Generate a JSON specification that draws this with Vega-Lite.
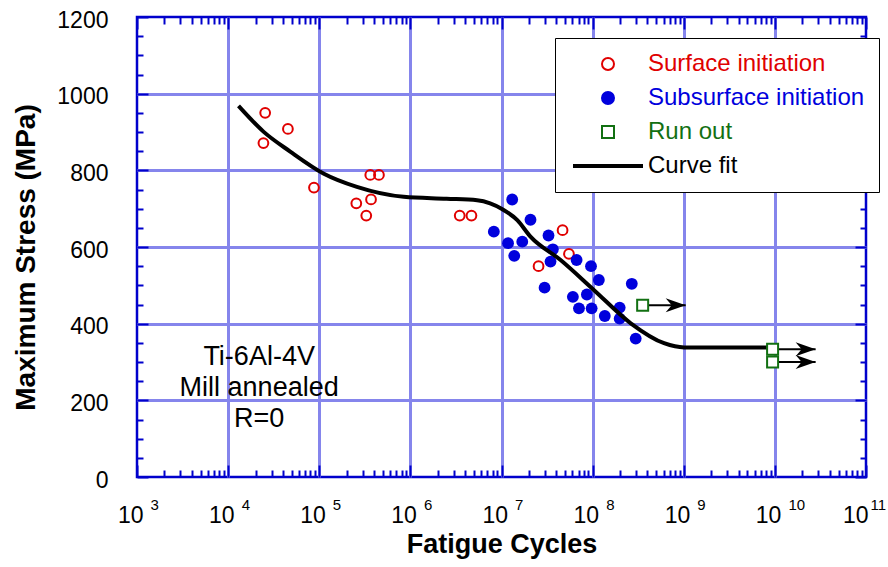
{
  "$schema": "https://vega.github.io/schema/vega-lite/v6.json",
  "width": 729,
  "height": 460,
  "autosize": {"type": "none"},
  "padding": {"left": 137, "top": 17, "right": 22, "bottom": 90},
  "background": "white",
  "config": {
    "font": "Liberation Sans",
    "view": {"stroke": "#0000cc", "strokeWidth": 2.5},
    "axis": {"labelColor": "black", "titleColor": "black", "domain": false, "labelFlush": false, "labelOverlap": false, "tickColor": "#0000cc", "tickWidth": 2, "tickOpacity": 1}
  },
  "resolve": {"axis": {"x": "independent", "y": "independent"}},
  "layer": [
    {
      "data": {"values": [
        {"series": "Surface initiation", "n": 25500, "s": 950},
        {"series": "Surface initiation", "n": 45300, "s": 908},
        {"series": "Surface initiation", "n": 24400, "s": 871},
        {"series": "Surface initiation", "n": 87500, "s": 755},
        {"series": "Surface initiation", "n": 363000, "s": 788},
        {"series": "Surface initiation", "n": 452000, "s": 788},
        {"series": "Surface initiation", "n": 255000, "s": 714},
        {"series": "Surface initiation", "n": 370000, "s": 724},
        {"series": "Surface initiation", "n": 328000, "s": 682},
        {"series": "Surface initiation", "n": 3480000, "s": 682},
        {"series": "Surface initiation", "n": 4680000, "s": 682},
        {"series": "Surface initiation", "n": 46800000, "s": 644},
        {"series": "Surface initiation", "n": 55000000, "s": 582},
        {"series": "Surface initiation", "n": 25500000, "s": 550}
      ]},
      "mark": {"type": "point", "filled": false, "strokeWidth": 2, "size": 95, "opacity": 1},
      "encoding": {
        "x": {
          "field": "n", "type": "quantitative",
          "scale": {"type": "log", "domain": [1000, 1e11], "nice": false},
          "axis": {
            "orient": "bottom",
            "values": [1000, 10000, 100000, 1e6, 1e7, 1e8, 1e9, 1e10, 1e11],
            "labelExpr": "'10'",
            "labelFontSize": 23, "labelAlign": "right", "labelBaseline": "alphabetic", "labelPadding": 45,
            "labelOffset": {"condition": {"test": "datum.value > 5e10", "value": 2}, "value": 6},
            "grid": true, "gridColor": "#8585ec", "gridWidth": 3,
            "gridOpacity": {"condition": {"test": "datum.value > 2000 && datum.value < 5e10", "value": 1}, "value": 0},
            "ticks": false, "tickSize": 0,
            "title": "Fatigue Cycles", "titleFontSize": 27, "titleFontWeight": "bold", "titlePadding": 4
          }
        },
        "y": {
          "field": "s", "type": "quantitative",
          "scale": {"domain": [0, 1200], "nice": false},
          "axis": {
            "orient": "left",
            "values": [0, 200, 400, 600, 800, 1000, 1200],
            "format": "d",
            "labelFontSize": 23, "labelPadding": 29, "labelOffset": 3,
            "grid": true, "gridColor": "#8585ec", "gridWidth": 3,
            "gridOpacity": {"condition": {"test": "datum.value > 0 && datum.value < 1200", "value": 1}, "value": 0},
            "ticks": false, "tickSize": 0,
            "title": "Maximum Stress (MPa)", "titleFontSize": 28, "titleFontWeight": "bold", "titlePadding": 16, "titleY": 240
          }
        },
        "color": {
          "field": "series", "type": "nominal",
          "scale": {"domain": ["Surface initiation", "Subsurface initiation", "Run out", "Curve fit"], "range": ["#e00000", "#0000dd", "#127012", "#000000"]},
          "legend": {
            "title": null,
            "orient": "none", "legendX": 418, "legendY": 21,
            "padding": 14, "fillColor": "white", "strokeColor": "black",
            "symbolSize": 400, "symbolOffset": 27, "clipHeight": 24, "rowPadding": 10, "labelOffset": 28, "labelLimit": 400,
            "labelFontSize": 24, "labelFont": "Liberation Sans",
            "labelColor": {"expr": "datum.value == 'Surface initiation' ? '#e00000' : datum.value == 'Subsurface initiation' ? '#0000dd' : datum.value == 'Run out' ? '#127012' : 'black'"},
            "symbolType": {"expr": "datum.value == 'Curve fit' ? 'M-3.5,0L3.5,0' : datum.value == 'Run out' ? 'M-0.6,-0.6L0.6,-0.6L0.6,0.6L-0.6,0.6Z' : datum.value == 'Subsurface initiation' ? 'M0.35,0A0.35,0.35 0 1,1 -0.35,0A0.35,0.35 0 1,1 0.35,0Z' : 'M0.6,0A0.6,0.6 0 1,1 -0.6,0A0.6,0.6 0 1,1 0.6,0Z'"},
            "symbolStrokeWidth": {"expr": "datum.value == 'Curve fit' ? 4 : datum.value == 'Subsurface initiation' ? 7 : 2"},
            "encode": {
              "legend": {"strokeWidth": {"value": 2}}
            }
          }
        }
      }
    },
    {
      "data": {"values": [
        {"n": 13100000, "s": 724},
        {"n": 20800000, "s": 671},
        {"n": 8240000, "s": 640},
        {"n": 32800000, "s": 630},
        {"n": 11800000, "s": 610},
        {"n": 16900000, "s": 614},
        {"n": 36600000, "s": 594},
        {"n": 13800000, "s": 577},
        {"n": 34500000, "s": 562},
        {"n": 66700000, "s": 566},
        {"n": 96000000, "s": 550},
        {"n": 117000000, "s": 514},
        {"n": 29700000, "s": 494},
        {"n": 269000000, "s": 504},
        {"n": 60700000, "s": 470},
        {"n": 86500000, "s": 476},
        {"n": 70800000, "s": 440},
        {"n": 97500000, "s": 440},
        {"n": 198000000, "s": 442},
        {"n": 136000000, "s": 420},
        {"n": 198000000, "s": 413},
        {"n": 297000000, "s": 361}
      ]},
      "mark": {"type": "point", "filled": true, "size": 140, "opacity": 1, "color": "#0000dd"},
      "encoding": {
        "x": {
          "field": "n", "type": "quantitative",
          "scale": {"type": "log", "domain": [1000, 1e11], "nice": false},
          "axis": {
            "orient": "bottom",
            "values": [1000, 10000, 100000, 1e6, 1e7, 1e8, 1e9, 1e10, 1e11],
            "labelExpr": "'' + round(log(datum.value)/LN10)",
            "labelFontSize": 15, "labelAlign": "left", "labelBaseline": "alphabetic", "labelPadding": 32,
            "labelOffset": {"condition": {"test": "datum.value > 5e10", "value": 4}, "value": 13},
            "ticks": false, "tickSize": 0, "grid": false, "title": null
          }
        },
        "y": {
          "field": "s", "type": "quantitative",
          "scale": {"domain": [0, 1200], "nice": false},
          "axis": {
            "orient": "left", "offset": -11,
            "values": [0, 200, 400, 600, 800, 1000, 1200],
            "labels": false, "grid": false, "title": null, "ticks": true, "tickSize": 11
          }
        }
      }
    },
    {
      "data": {"values": [
        {"n": 13000, "s": 968},
        {"n": 24400, "s": 901},
        {"n": 48000, "s": 849},
        {"n": 111000, "s": 792},
        {"n": 259000, "s": 757},
        {"n": 845000, "s": 731},
        {"n": 2500000, "s": 726},
        {"n": 5400000, "s": 722},
        {"n": 7500000, "s": 714},
        {"n": 10000000, "s": 700},
        {"n": 14900000, "s": 670},
        {"n": 20800000, "s": 627},
        {"n": 44500000, "s": 566},
        {"n": 103000000, "s": 488},
        {"n": 262000000, "s": 401},
        {"n": 608000000, "s": 349},
        {"n": 1010000000, "s": 338},
        {"n": 9040000000, "s": 338}
      ]},
      "mark": {"type": "line", "strokeWidth": 4, "interpolate": "monotone", "color": "black"},
      "encoding": {
        "x": {
          "field": "n", "type": "quantitative",
          "scale": {"type": "log", "domain": [1000, 1e11], "nice": false},
          "axis": {
            "orient": "bottom", "offset": -12,
            "values": [1000, 10000, 100000, 1e6, 1e7, 1e8, 1e9, 1e10, 1e11],
            "labels": false, "grid": false, "title": null, "ticks": true, "tickSize": 12
          }
        },
        "y": {
          "field": "s", "type": "quantitative", "scale": {"domain": [0, 1200], "nice": false},
          "axis": {
            "orient": "left", "offset": -6,
            "values": [50,100,150,250,300,350,450,500,550,650,700,750,850,900,950,1050,1100,1150],
            "labels": false, "grid": false, "title": null, "ticks": true, "tickSize": 6
          }
        }
      }
    },
    {
      "data": {"values": [
        {"n": 354000000, "n2": 1050000000, "s": 448},
        {"n": 9440000000, "n2": 28000000000, "s": 333},
        {"n": 9440000000, "n2": 28000000000, "s": 300}
      ]},
      "mark": {"type": "rule", "color": "black", "strokeWidth": 2},
      "encoding": {
        "x": {
          "field": "n", "type": "quantitative", "scale": {"type": "log", "domain": [1000, 1e11], "nice": false},
          "axis": {
            "orient": "bottom", "offset": -7,
            "values": [2000,3000,4000,5000,6000,7000,8000,9000,20000,30000,40000,50000,60000,70000,80000,90000,200000,300000,400000,500000,600000,700000,800000,900000,2e6,3e6,4e6,5e6,6e6,7e6,8e6,9e6,2e7,3e7,4e7,5e7,6e7,7e7,8e7,9e7,2e8,3e8,4e8,5e8,6e8,7e8,8e8,9e8,2e9,3e9,4e9,5e9,6e9,7e9,8e9,9e9,2e10,3e10,4e10,5e10,6e10,7e10,8e10,9e10],
            "labels": false, "grid": false, "title": null, "ticks": true, "tickSize": 7
          }
        },
        "x2": {"field": "n2"},
        "y": {
          "field": "s", "type": "quantitative", "scale": {"domain": [0, 1200], "nice": false},
          "axis": {
            "orient": "right", "offset": -11,
            "values": [0, 200, 400, 600, 800, 1000, 1200],
            "labels": false, "grid": false, "title": null, "ticks": true, "tickSize": 11
          }
        }
      }
    },
    {
      "data": {"values": [
        {"n": 1050000000, "s": 448},
        {"n": 28000000000, "s": 333},
        {"n": 28000000000, "s": 300}
      ]},
      "mark": {"type": "point", "shape": "M0,0 L-2,-0.7 L-1.4,0 L-2,0.7 Z", "filled": true, "color": "black", "size": 400, "opacity": 1},
      "encoding": {
        "x": {
          "field": "n", "type": "quantitative", "scale": {"type": "log", "domain": [1000, 1e11], "nice": false},
          "axis": {
            "orient": "top", "offset": -12,
            "values": [1000, 10000, 100000, 1e6, 1e7, 1e8, 1e9, 1e10, 1e11],
            "labels": false, "grid": false, "title": null, "ticks": true, "tickSize": 12
          }
        },
        "y": {
          "field": "s", "type": "quantitative", "scale": {"domain": [0, 1200], "nice": false},
          "axis": {
            "orient": "right", "offset": -6,
            "values": [50,100,150,250,300,350,450,500,550,650,700,750,850,900,950,1050,1100,1150],
            "labels": false, "grid": false, "title": null, "ticks": true, "tickSize": 6
          }
        }
      }
    },
    {
      "data": {"values": [
        {"n": 354000000, "s": 448},
        {"n": 9440000000, "s": 333},
        {"n": 9440000000, "s": 300}
      ]},
      "mark": {"type": "point", "shape": "square", "filled": false, "fill": "white", "stroke": "#127012", "strokeWidth": 2, "size": 121, "opacity": 1},
      "encoding": {
        "x": {
          "field": "n", "type": "quantitative", "scale": {"type": "log", "domain": [1000, 1e11], "nice": false},
          "axis": {
            "orient": "top", "offset": -7,
            "values": [2000,3000,4000,5000,6000,7000,8000,9000,20000,30000,40000,50000,60000,70000,80000,90000,200000,300000,400000,500000,600000,700000,800000,900000,2e6,3e6,4e6,5e6,6e6,7e6,8e6,9e6,2e7,3e7,4e7,5e7,6e7,7e7,8e7,9e7,2e8,3e8,4e8,5e8,6e8,7e8,8e8,9e8,2e9,3e9,4e9,5e9,6e9,7e9,8e9,9e9,2e10,3e10,4e10,5e10,6e10,7e10,8e10,9e10],
            "labels": false, "grid": false, "title": null, "ticks": true, "tickSize": 7
          }
        },
        "y": {"field": "s", "type": "quantitative", "scale": {"domain": [0, 1200], "nice": false}, "axis": null}
      }
    },
    {
      "data": {"values": [
        {"n": 21900, "s": 314, "t": "Ti-6Al-4V"},
        {"n": 21900, "s": 232, "t": "Mill annealed"},
        {"n": 21900, "s": 151, "t": "R=0"}
      ]},
      "mark": {"type": "text", "fontSize": 27, "color": "black", "align": "center", "baseline": "middle"},
      "encoding": {
        "x": {"field": "n", "type": "quantitative", "scale": {"type": "log", "domain": [1000, 1e11], "nice": false}, "axis": null},
        "y": {"field": "s", "type": "quantitative", "scale": {"domain": [0, 1200], "nice": false}, "axis": null},
        "text": {"field": "t", "type": "nominal"}
      }
    }
  ]
}
